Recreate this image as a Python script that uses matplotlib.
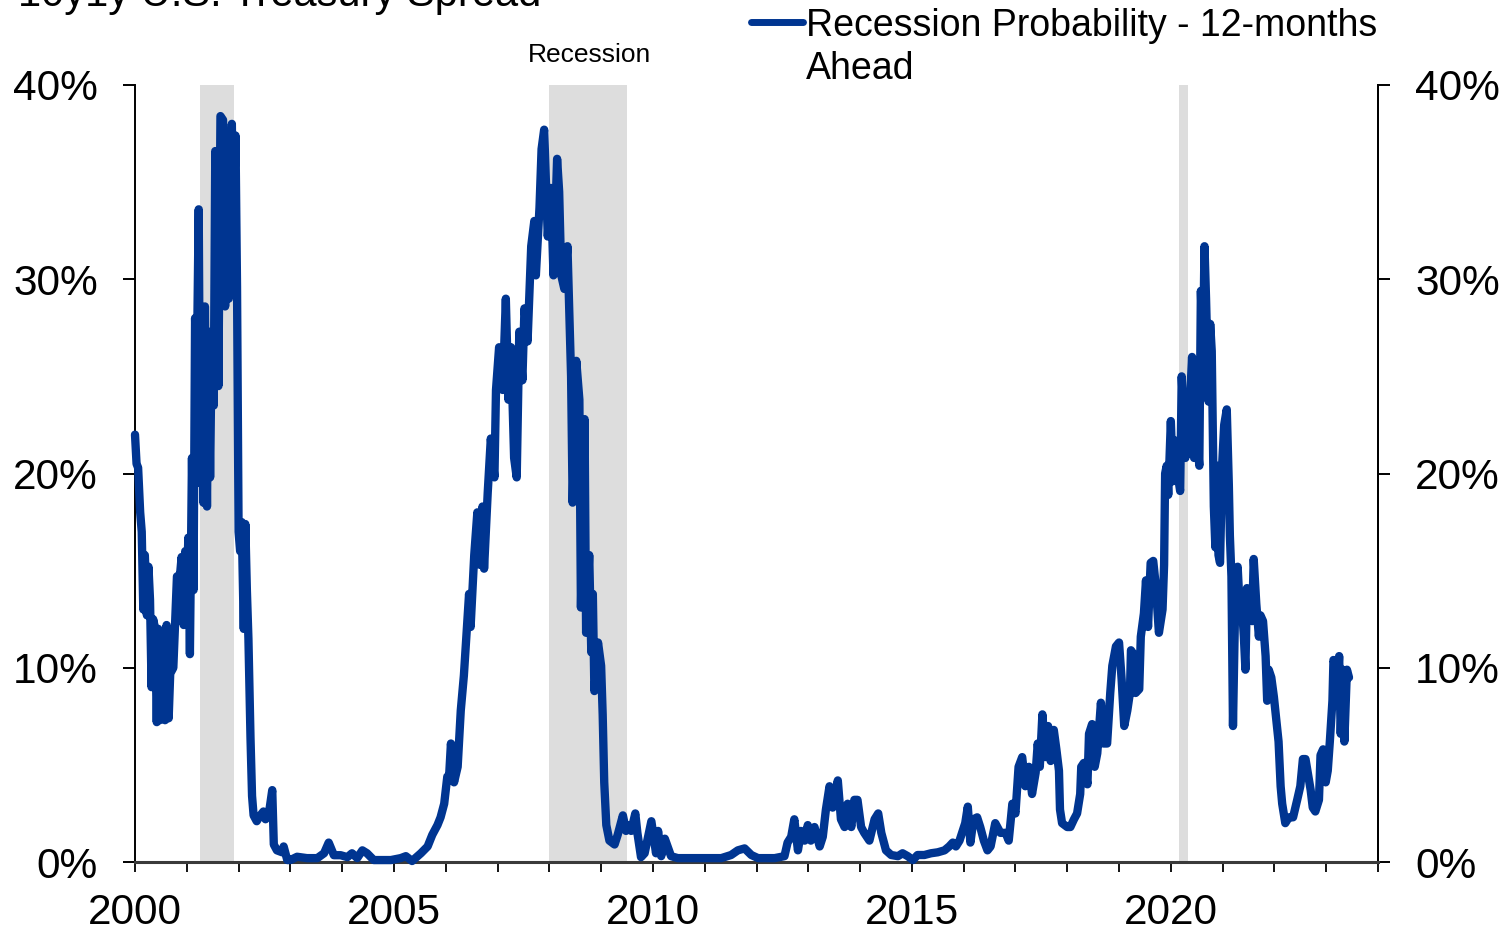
import matplotlib
matplotlib.use("Agg")
import matplotlib.pyplot as plt
from matplotlib.lines import Line2D
from matplotlib.ticker import FixedLocator, MultipleLocator, FuncFormatter, NullFormatter

plt.rcParams['font.family'] = ['Liberation Sans', 'DejaVu Sans']

title = "10y1y U.S. Treasury Spread"
series_label = ["Recession Probability - 12-months", "Ahead"]
recession_label = "Recession"
recessions = [(2001.25, 2001.92), (2008.00, 2009.50), (2020.16, 2020.34)]
year_ticks = [2000, 2005, 2010, 2015, 2020]
pct_ticks = [0, 10, 20, 30, 40]

# recession probability, 12 months ahead (%), by decimal year
dates = [
    2000.00, 2000.03, 2000.06, 2000.10, 2000.13, 2000.16, 2000.19, 2000.23, 2000.26, 2000.29,
    2000.32, 2000.35, 2000.39, 2000.42, 2000.45, 2000.48, 2000.52, 2000.58, 2000.61, 2000.65,
    2000.68, 2000.74, 2000.81, 2000.87, 2000.90, 2000.94, 2000.97, 2001.00, 2001.03, 2001.06,
    2001.10, 2001.13, 2001.16, 2001.19, 2001.23, 2001.26, 2001.29, 2001.32, 2001.35, 2001.39,
    2001.42, 2001.45, 2001.48, 2001.52, 2001.55, 2001.58, 2001.61, 2001.65, 2001.70, 2001.74,
    2001.77, 2001.81, 2001.84, 2001.87, 2001.90, 2001.94, 2001.97, 2002.00, 2002.03, 2002.06,
    2002.10, 2002.13, 2002.16, 2002.19, 2002.23, 2002.26, 2002.29, 2002.35, 2002.42, 2002.48,
    2002.52, 2002.58, 2002.65, 2002.68, 2002.74, 2002.84, 2002.87, 2002.94,
    2003.00, 2003.13, 2003.32, 2003.52, 2003.65, 2003.74, 2003.84, 2003.97, 2004.10, 2004.19,
    2004.29, 2004.39, 2004.48, 2004.61, 2004.74, 2004.94, 2005.13, 2005.23, 2005.35, 2005.52,
    2005.65, 2005.74, 2005.84, 2005.90, 2005.97,
    2006.03, 2006.06, 2006.10, 2006.16, 2006.23, 2006.29, 2006.35, 2006.39, 2006.45, 2006.48,
    2006.55, 2006.61, 2006.66, 2006.71, 2006.74, 2006.81, 2006.87, 2006.94, 2006.97, 2007.03,
    2007.10, 2007.16, 2007.21, 2007.26, 2007.32, 2007.37, 2007.42, 2007.48, 2007.52, 2007.58,
    2007.65, 2007.71, 2007.74, 2007.81, 2007.85, 2007.90, 2007.97, 2008.03, 2008.08, 2008.15,
    2008.19, 2008.23, 2008.29, 2008.35, 2008.42, 2008.45, 2008.52, 2008.58, 2008.61, 2008.68,
    2008.71, 2008.77, 2008.81, 2008.84, 2008.87, 2008.94, 2009.00, 2009.03, 2009.06, 2009.10,
    2009.16, 2009.26, 2009.32, 2009.42, 2009.48, 2009.52, 2009.58, 2009.66, 2009.70, 2009.77,
    2009.84, 2009.90, 2009.97, 2010.06, 2010.10, 2010.16, 2010.23, 2010.35, 2010.48, 2010.74,
    2011.06, 2011.32, 2011.51, 2011.64, 2011.77, 2011.90, 2012.03, 2012.35, 2012.54, 2012.60,
    2012.67, 2012.73, 2012.80, 2012.86, 2012.93, 2012.99, 2013.05, 2013.12, 2013.22, 2013.28,
    2013.34, 2013.41, 2013.47, 2013.57, 2013.63, 2013.70, 2013.76, 2013.83, 2013.89, 2013.95,
    2014.02, 2014.08, 2014.18, 2014.28, 2014.35, 2014.41, 2014.50, 2014.60, 2014.73, 2014.82,
    2014.92, 2015.02, 2015.11, 2015.24, 2015.37, 2015.50, 2015.63, 2015.72, 2015.79, 2015.85,
    2015.92, 2015.98,
    2016.03, 2016.08, 2016.13, 2016.19, 2016.26, 2016.32, 2016.39, 2016.46, 2016.52, 2016.61,
    2016.71, 2016.81, 2016.87, 2016.94, 2017.00, 2017.06, 2017.13, 2017.19, 2017.26, 2017.32,
    2017.39, 2017.43, 2017.47, 2017.52, 2017.58, 2017.63, 2017.68, 2017.74, 2017.79, 2017.84,
    2017.86, 2017.90, 2018.00, 2018.06, 2018.13, 2018.19, 2018.25, 2018.27, 2018.32, 2018.39,
    2018.42, 2018.48, 2018.53, 2018.58, 2018.65, 2018.70, 2018.77, 2018.83, 2018.87, 2018.94,
    2019.00, 2019.05, 2019.10, 2019.16, 2019.21, 2019.23, 2019.28, 2019.32, 2019.39, 2019.42,
    2019.48, 2019.52, 2019.56, 2019.61, 2019.66, 2019.71, 2019.77, 2019.84,
    2019.87, 2019.89, 2019.92, 2019.95, 2020.00, 2020.04, 2020.08, 2020.13, 2020.18, 2020.21,
    2020.28, 2020.34, 2020.41, 2020.45, 2020.50, 2020.55, 2020.58, 2020.62, 2020.65, 2020.68,
    2020.73, 2020.76, 2020.79, 2020.83, 2020.86, 2020.89, 2020.92, 2020.95, 2020.99, 2021.03,
    2021.08, 2021.12, 2021.14, 2021.17, 2021.20, 2021.25, 2021.29, 2021.33, 2021.36, 2021.41,
    2021.44, 2021.47, 2021.54, 2021.57, 2021.60, 2021.65, 2021.70, 2021.73, 2021.78, 2021.83,
    2021.86, 2021.89, 2021.94, 2021.99, 2022.04, 2022.08, 2022.12, 2022.15, 2022.21, 2022.28,
    2022.36, 2022.44, 2022.50, 2022.55, 2022.60, 2022.65, 2022.70, 2022.74, 2022.79, 2022.86,
    2022.89, 2022.94, 2022.99, 2023.03, 2023.07, 2023.12, 2023.14, 2023.18, 2023.21, 2023.25,
    2023.28, 2023.32, 2023.35, 2023.40, 2023.44,
]
prob = [
    22.0, 20.5, 20.3, 18.0, 17.0, 13.0, 15.8, 12.7, 15.2, 13.5,
    9.0, 12.5, 12.0, 7.2, 12.0, 7.3, 10.7, 7.3, 12.2, 7.4,
    9.7, 10.0, 14.7, 14.8, 15.7, 12.2, 16.0, 14.0, 16.7, 10.7,
    20.8, 14.0, 28.0, 24.5, 33.6, 19.5, 27.0, 18.5, 28.6, 18.3,
    27.3, 19.8, 26.6, 23.5, 36.6, 34.6, 24.5, 38.4, 38.2, 28.6,
    34.0, 29.0, 35.0, 38.0, 32.0, 37.4, 29.6, 17.0, 16.0, 17.5,
    12.0, 17.4, 14.0, 11.5, 6.4, 3.4, 2.4, 2.1, 2.4, 2.6,
    2.2, 2.4, 3.7, 0.9, 0.6, 0.5, 0.8, 0.1,
    0.1, 0.27, 0.2, 0.2, 0.45, 1.0, 0.35, 0.35, 0.25, 0.45,
    0.2, 0.6, 0.45, 0.1, 0.1, 0.1, 0.2, 0.3, 0.05, 0.45,
    0.8, 1.4, 1.9, 2.3, 3.0,
    4.4, 4.2, 6.1, 4.1, 4.9, 7.8, 9.6, 11.3, 13.8, 12.1,
    15.8, 18.0, 15.3, 18.3, 15.1, 19.0, 21.8, 19.8, 24.3, 26.5,
    24.3, 29.0, 23.8, 26.5, 20.8, 19.8, 27.3, 24.8, 28.5, 26.8,
    31.7, 33.0, 30.2, 33.7, 36.7, 37.7, 32.2, 34.7, 30.2, 36.2,
    34.5, 30.2, 29.5, 31.7, 25.0, 18.5, 25.8, 23.8, 13.1, 22.8,
    11.8, 15.8, 10.8, 13.8, 8.8, 11.3, 10.1, 7.6, 4.1, 1.9,
    1.1, 0.9, 1.4, 2.4, 1.6, 1.9, 1.6, 2.5, 1.5, 0.25,
    0.45, 1.2, 2.1, 0.45, 1.6, 0.3, 1.2, 0.3, 0.2, 0.2,
    0.2, 0.2, 0.36, 0.6, 0.7, 0.36, 0.2, 0.2, 0.3, 1.0,
    1.3, 2.2, 0.6, 1.6, 1.1, 1.9, 1.1, 1.8, 0.8, 1.3,
    2.7, 3.9, 2.8, 4.2, 2.2, 1.8, 3.0, 1.8, 3.2, 3.2,
    1.8, 1.5, 1.1, 2.2, 2.5, 1.5, 0.6, 0.36, 0.3, 0.45,
    0.3, 0.1, 0.36, 0.36, 0.45, 0.5, 0.6, 0.8, 1.0, 0.8,
    1.1, 1.6,
    2.0, 2.85, 1.0, 2.2, 2.3, 1.8, 1.1, 0.6, 0.8, 2.0,
    1.5, 1.5, 1.1, 3.0, 2.5, 4.9, 5.4, 3.9, 4.9, 3.5,
    4.6, 6.1, 4.9, 7.6, 5.4, 7.0, 5.2, 6.8, 5.8, 4.7,
    2.7, 2.0, 1.8, 1.8, 2.2, 2.5, 3.5, 4.9, 5.1, 4.0,
    6.6, 7.1, 4.9, 5.6, 8.2, 6.1, 6.1, 8.7, 10.1, 11.1,
    11.3, 9.4, 7.0, 7.8, 8.7, 10.9, 10.7, 8.7, 8.9, 11.6,
    12.8, 14.5, 12.1, 15.4, 15.5, 14.2, 11.8, 13.0,
    15.3, 20.0, 20.4, 18.9, 22.7, 19.6, 21.7, 20.0, 19.1, 25.0,
    20.8, 22.1, 26.0, 20.8, 22.1, 20.4, 29.4, 25.8, 31.7, 29.0,
    23.7, 27.7, 26.3, 18.3, 16.2, 20.4, 15.8, 15.4, 20.4, 22.5,
    23.3, 19.4, 16.8, 14.7, 7.0, 14.5, 15.2, 13.1, 13.7, 11.6,
    9.9, 14.1, 13.7, 12.4, 15.6, 13.3, 11.6, 12.7, 12.4, 10.6,
    8.3, 9.9, 9.5, 8.5, 7.2, 6.2, 3.9, 3.0, 2.0, 2.3,
    2.3, 3.2, 3.9, 5.3, 5.3, 4.5, 3.7, 2.8, 2.6, 3.2,
    5.5, 5.8, 4.1, 4.7, 6.2, 8.3, 10.4, 10.1, 8.7, 10.6,
    6.6, 9.9, 6.2, 9.9, 9.5,
]

W, H = 1501, 931
line_color = '#003591'
shade_color = '#DDDDDD'

fig = plt.figure(figsize=(W / 100, H / 100), dpi=100)
ax = fig.add_axes([135 / W, 69 / H, (1378 - 135) / W, (862 - 85) / H])

for start, end in recessions:
    ax.axvspan(start, end, color=shade_color, lw=0, zorder=0)

ax.plot(dates, prob, color=line_color, lw=6, solid_joinstyle='round',
        solid_capstyle='round', zorder=3, clip_on=False)

ax.set_xlim(2000, 2024)
ax.set_ylim(0, 40)

pct_fmt = FuncFormatter(lambda v, _: f"{v:.0f}%")
ax.yaxis.set_major_locator(FixedLocator(pct_ticks))
ax.yaxis.set_major_formatter(pct_fmt)
ax.xaxis.set_major_locator(FixedLocator(year_ticks))
ax.xaxis.set_major_formatter(FuncFormatter(lambda v, _: f"{v:.0f}"))
ax.xaxis.set_minor_locator(MultipleLocator(1))
ax.xaxis.set_minor_formatter(NullFormatter())

ax.spines['top'].set_visible(False)
for side in ('left', 'right'):
    ax.spines[side].set_linewidth(1.4)
    ax.spines[side].set_color('black')
ax.spines['bottom'].set_linewidth(2.2)
ax.spines['bottom'].set_color('#3a3a3a')

ax.tick_params(axis='x', which='both', direction='out', length=7.5, width=1.3,
               pad=15, labelsize=30.5, colors='black')
ax.tick_params(axis='y', which='major', direction='out', length=8.6, width=1.4,
               pad=18, labelsize=30.5)

ax2 = ax.twinx()
ax2.set_ylim(ax.get_ylim())
ax2.yaxis.set_major_locator(FixedLocator(pct_ticks))
ax2.yaxis.set_major_formatter(pct_fmt)
ax2.tick_params(axis='y', direction='out', length=8.6, width=1.4, pad=18,
                labelsize=30.5)
for side in ('top', 'left', 'bottom'):
    ax2.spines[side].set_visible(False)
ax2.spines['right'].set_linewidth(1.4)
ax2.set_zorder(ax.get_zorder() - 1)
ax.patch.set_visible(False)

# title (runs off the top edge)
fig.text(18 / W, 1 - 6 / H, title, fontsize=30, va='baseline', ha='left')

# recession label over the 2008 shading
fig.text(589 / W, 1 - 55 / H, recession_label, fontsize=19, ha='center', va='center')

# legend key
fig.add_artist(Line2D([751 / W, 803 / W], [1 - 22 / H, 1 - 22 / H],
                      transform=fig.transFigure, color=line_color, lw=5,
                      solid_capstyle='round'))
fig.text(806 / W, 1 - 36 / H, series_label[0], fontsize=27, ha='left', va='baseline')
fig.text(806 / W, 1 - 79 / H, series_label[1], fontsize=27, ha='left', va='baseline')

fig.savefig('out.png', dpi=100)
